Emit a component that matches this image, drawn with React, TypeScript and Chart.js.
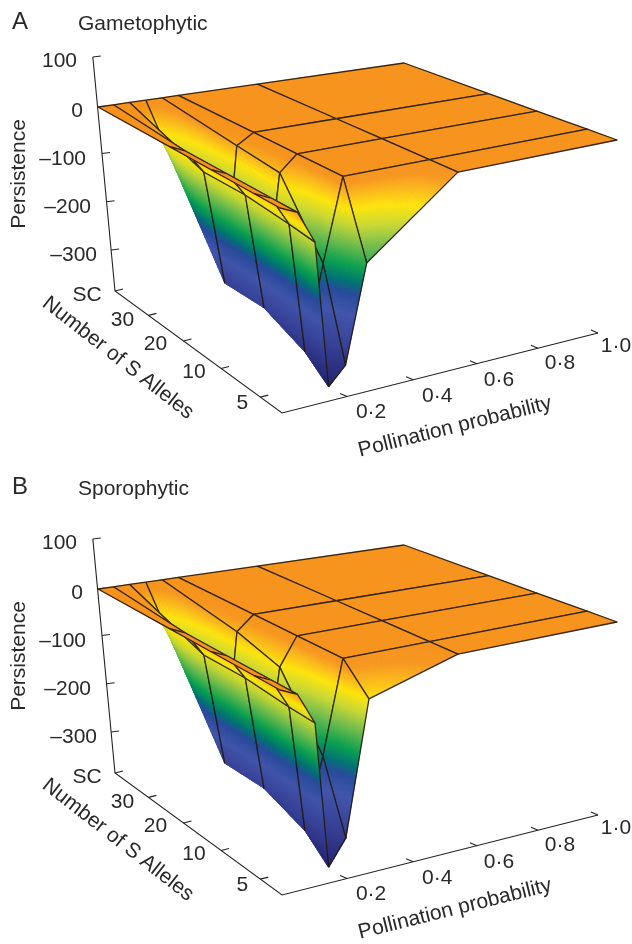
import React, { useEffect, useRef } from "react";
import { Chart, registerables } from "chart.js";

Chart.register(...registerables);

// ---------- data ----------
const pollination = [0, 0.05, 0.1, 0.15, 0.2, 0.25, 0.5, 1];
const alleleRows = ["SC", "30", "20", "10", "5"];

const gamSC = [0, 0, 0, 0, 0, 0, 0, 0];
const gam30 = [0, -15, -62, -289, -21, 0, 0, 0];
const gam20 = [0, -15, -62, -288, -31, 0, 0, 0];
const gam10 = [0, -15, -71, -322, -160, 0, 0, 0];
const gam5 = [0, -15, -78, -358, -324, -138, 0, 0];

const spoSC = [0, 0, 0, 0, 0, 0, 0, 0];
const spo30 = [0, -15, -64, -285, -29, 0, 0, 0];
const spo20 = [0, -15, -64, -285, -55, 0, 0, 0];
const spo10 = [0, -15, -73, -316, -180, 0, 0, 0];
const spo5 = [0, -15, -76, -355, -307, -51, 0, 0];

const persistenceTicks = [100, 0, -100, -200, -300];
const persistenceLabels = ["100", "0", "–100", "–200", "–300"];
const alleleTicks = ["SC", "30", "20", "10", "5"];
const pollinationTicks = ["0·2", "0·4", "0·6", "0·8", "1·0"];

// ---------- colour scale (persistence -> colour) ----------
const colourZ = [0, -12, -30, -52, -80, -110, -150, -178, -198, -235, -290, -360];
const colourRGB = [
  [247, 148, 30], [247, 150, 30], [250, 185, 25], [253, 228, 10], [200, 215, 50], [120, 190, 75],
  [10, 160, 80], [0, 115, 115], [40, 75, 155], [65, 85, 170], [55, 65, 150], [35, 35, 110],
];
function colourOf(z: number) {
  if (z >= colourZ[0]) return `rgb(${colourRGB[0].join(",")})`;
  for (let i = 1; i < colourZ.length; i++) {
    if (z >= colourZ[i]) {
      const t = (colourZ[i - 1] - z) / (colourZ[i - 1] - colourZ[i]);
      const a = colourRGB[i - 1], b = colourRGB[i];
      return `rgb(${a.map((v, k) => Math.round(v + (b[k] - v) * t)).join(",")})`;
    }
  }
  return `rgb(${colourRGB[colourRGB.length - 1].join(",")})`;
}

// ---------- 3-D view ----------
const rowDepth = [0, 0.44, 0.664, 0.88, 1];
const Q = { x0: 98, y0: 107, x1: 404, y1: 63, x2: 617, y2: 140, x3: 280, y3: 208 };
const dx1 = Q.x1 - Q.x2, dx2 = Q.x3 - Q.x2, sx = Q.x0 - Q.x1 + Q.x2 - Q.x3;
const dy1 = Q.y1 - Q.y2, dy2 = Q.y3 - Q.y2, sy = Q.y0 - Q.y1 + Q.y2 - Q.y3;
const den = dx1 * dy2 - dx2 * dy1;
const hg = (sx * dy2 - dx2 * sy) / den;
const hh = (dx1 * sy - sx * dy1) / den;
const ha = Q.x1 - Q.x0 + hg * Q.x1, hb = Q.x3 - Q.x0 + hh * Q.x3;
const hd = Q.y1 - Q.y0 + hg * Q.y1, he = Q.y3 - Q.y0 + hh * Q.y3;
const vanish = { x: 285, y: 1917 };

function project(p: number, depth: number, z: number, off: number) {
  const u = Math.pow(p, 1.04);
  const D = 1 + hg * u + hh * depth;
  const x = (ha * u + hb * depth + Q.x0) / D;
  const y = (hd * u + he * depth + Q.y0) / D;
  const dy = (-z / 100) * (z > 0 ? 50 : 48 + 5 * depth);
  const tilt = (vanish.x - x) / (vanish.y - y);
  return { x: x + tilt * dy, y: y + dy + off };
}

// floor frame
const floorBack = { x: 115, y: 291 };
const floorNear = { x: 282, y: 413 };
const floorFar = { x: 598, y: 333 };
const alleleTickAt = [0, 0.2, 0.41, 0.635, 0.87];
const pollTickAt = [0.206, 0.415, 0.617, 0.81, 1];
const alleleLabelShift = [[-28, 4], [-26, 5], [-28, 3], [-27, 4], [-18, 6]];
const pollLabelShift = [[24, 16], [24, 16], [22, 17], [22, 15], [18, 13]];
const zLabelRight = [77, 83, 86, 91, 97];

const INK = "#2a2829";
const WIRE = "rgba(34,26,14,0.9)";
const WIRE_WIDTH = 1.3;
const P15 = 3; // column that forms the left silhouette

function lerp(a: any, b: any, t: number, off = 0) {
  return { x: a.x + (b.x - a.x) * t, y: a.y + (b.y - a.y) * t + off };
}

function makeDatasets(rows: number[][], off: number) {
  const sets: any[] = [];
  const frame = (pts: any[]) =>
    sets.push({ data: pts, showLine: true, pointRadius: 0, borderColor: "#222", borderWidth: 1.1, clip: false, order: 100000 });

  const zTop = project(0, 0, 100, off);
  const fb = { x: floorBack.x, y: floorBack.y + off };
  const fn = { x: floorNear.x, y: floorNear.y + off };
  const ff = { x: floorFar.x, y: floorFar.y + off };
  frame([zTop, fb, fn, ff]);
  persistenceTicks.forEach((z) => {
    if (z === 0) return;
    const a = lerp(zTop, fb, (100 - z) / 485);
    frame([a, { x: a.x + 8, y: a.y - 1 }]);
  });
  alleleTickAt.forEach((t) => {
    const a = lerp(fb, fn, t);
    frame([a, { x: a.x + 8, y: a.y - 2 }]);
  });
  pollTickAt.forEach((t) => {
    const a = lerp(fn, ff, t);
    frame([a, { x: a.x - 7, y: a.y - 3 }]);
  });

  let n = 50000;
  for (let c = pollination.length - 2; c >= 0; c--) {
    for (let r = 0; r < rowDepth.length - 1; r++) {
      const v = (cc: number, rr: number) => project(pollination[cc], rowDepth[rr], rows[rr][cc], off);
      const pts = [v(c, r), v(c + 1, r), v(c + 1, r + 1), v(c, r + 1), v(c, r)];
      const hidden: number[] = [];
      if (c === P15 - 1) hidden.push(1);
      if (c === P15) hidden.push(3);
      sets.push({
        data: pts,
        showLine: true,
        pointRadius: 0,
        borderColor: WIRE,
        borderWidth: WIRE_WIDTH,
        borderJoinStyle: "round",
        clip: false,
        order: n--,
        cell: { c, r },
        segment: { borderColor: (ctx: any) => (hidden.includes(ctx.p0DataIndex) ? "transparent" : undefined) },
      });
    }
    if (c === P15 - 1) {
      const a = project(pollination[P15], rowDepth[0], rows[0][P15], off);
      const b = project(pollination[P15], rowDepth[1], rows[1][P15], off);
      sets.push({
        data: [a, lerp(a, b, 0.21)],
        showLine: true, pointRadius: 0, borderColor: WIRE, borderWidth: WIRE_WIDTH, clip: false, order: n--,
      });
    }
  }
  return sets;
}

const surfacePlugin = (rows: number[][], off: number) => ({
  id: "surfaceShade",
  beforeDatasetDraw(chart: any, args: any) {
    const cell = chart.data.datasets[args.index].cell;
    if (!cell) return;
    const { c, r } = cell;
    const ctx = chart.ctx;
    const xs = chart.scales.x, ys = chart.scales.y;
    const corner = (cc: number, rr: number) => {
      const pt = project(pollination[cc], rowDepth[rr], rows[rr][cc], off);
      return { x: xs.getPixelForValue(pt.x), y: ys.getPixelForValue(pt.y), z: rows[rr][cc] };
    };
    const a = corner(c, r), b = corner(c + 1, r), d = corner(c + 1, r + 1), e = corner(c, r + 1);
    const flat = a.z === 0 && b.z === 0 && d.z === 0 && e.z === 0;
    const N = flat ? 1 : 36;
    const at = (s: number, t: number) => {
      const w00 = (1 - s) * (1 - t), w10 = s * (1 - t), w11 = s * t, w01 = (1 - s) * t;
      return {
        x: a.x * w00 + b.x * w10 + d.x * w11 + e.x * w01,
        y: a.y * w00 + b.y * w10 + d.y * w11 + e.y * w01,
        z: a.z * w00 + b.z * w10 + d.z * w11 + e.z * w01,
      };
    };
    ctx.save();
    ctx.lineWidth = 0.7;
    for (let i = 0; i < N; i++) {
      for (let j = 0; j < N; j++) {
        const p1 = at(i / N, j / N), p2 = at((i + 1) / N, j / N), p3 = at((i + 1) / N, (j + 1) / N), p4 = at(i / N, (j + 1) / N);
        const col = colourOf(at((i + 0.5) / N, (j + 0.5) / N).z);
        ctx.fillStyle = col;
        ctx.strokeStyle = col;
        ctx.beginPath();
        ctx.moveTo(p1.x, p1.y);
        ctx.lineTo(p2.x, p2.y);
        ctx.lineTo(p3.x, p3.y);
        ctx.lineTo(p4.x, p4.y);
        ctx.closePath();
        ctx.fill();
        ctx.stroke();
      }
    }
    ctx.restore();
  },
});

const textPlugin = (letter: string, title: string, titleY: number, off: number) => ({
  id: "panelText",
  afterDraw(chart: any) {
    const ctx = chart.ctx;
    const put = (t: string, x: number, y: number, font: string, align: CanvasTextAlign = "center", rot = 0, base: CanvasTextBaseline = "middle") => {
      ctx.save();
      ctx.translate(x, y);
      ctx.rotate((rot * Math.PI) / 180);
      ctx.font = font;
      ctx.fillStyle = INK;
      ctx.textAlign = align;
      ctx.textBaseline = base;
      ctx.fillText(t, 0, 0);
      ctx.restore();
    };
    const F = '21px "Liberation Sans"';
    put(letter, 12, titleY - 1, '24px "Liberation Sans"', "left", 0, "alphabetic");
    put(title, 78, titleY, F, "left", 0, "alphabetic");
    persistenceTicks.forEach((z, i) => {
      const y = project(0, 0, z, off).y;
      put(persistenceLabels[i], zLabelRight[i], y + 4, F, "right");
    });
    put("Persistence", 19, 174 + off, F, "center", -90);
    const fb = { x: floorBack.x, y: floorBack.y + off };
    const fn = { x: floorNear.x, y: floorNear.y + off };
    const ff = { x: floorFar.x, y: floorFar.y + off };
    alleleTickAt.forEach((t, i) => {
      const a = lerp(fb, fn, t);
      put(alleleTicks[i], a.x + alleleLabelShift[i][0], a.y + alleleLabelShift[i][1], F);
    });
    pollTickAt.forEach((t, i) => {
      const a = lerp(fn, ff, t);
      put(pollinationTicks[i], a.x + pollLabelShift[i][0], a.y + pollLabelShift[i][1], F);
    });
    put("Number of S Alleles", 118, 358 + off, F, "center", 38);
    put("Pollination probability", 455, 427 + off, F, "center", -14);
  },
});

function Panel({ letter, title, rows, off, titleY, top }: any) {
  const ref = useRef<HTMLCanvasElement | null>(null);
  useEffect(() => {
    const chart = new Chart(ref.current as HTMLCanvasElement, {
      type: "scatter",
      data: { datasets: makeDatasets(rows, off) },
      options: {
        animation: false,
        responsive: false,
        devicePixelRatio: 1,
        layout: { padding: 0 },
        events: [],
        plugins: { legend: { display: false }, tooltip: { enabled: false }, title: { display: false } },
        scales: {
          x: { type: "linear", min: 0, max: 632, display: false },
          y: { type: "linear", min: 0, max: 472, reverse: true, display: false },
        },
      } as any,
      plugins: [surfacePlugin(rows, off), textPlugin(letter, title, titleY, off)],
    });
    return () => chart.destroy();
  }, []);
  return (
    <canvas
      ref={ref}
      width={632}
      height={472}
      role="img"
      aria-label={title}
      style={{ position: "absolute", left: 0, top, width: 632, height: 472, display: "block" }}
    />
  );
}

export default function App() {
  return (
    <div style={{ position: "absolute", left: 0, top: 0, width: 632, height: 944, overflow: "hidden", background: "#fff" }}>
      <Panel letter="A" title="Gametophytic" rows={[gamSC, gam30, gam20, gam10, gam5]} off={0} titleY={30} top={0} />
      <Panel letter="B" title="Sporophytic" rows={[spoSC, spo30, spo20, spo10, spo5]} off={10} titleY={23} top={472} />
    </div>
  );
}
